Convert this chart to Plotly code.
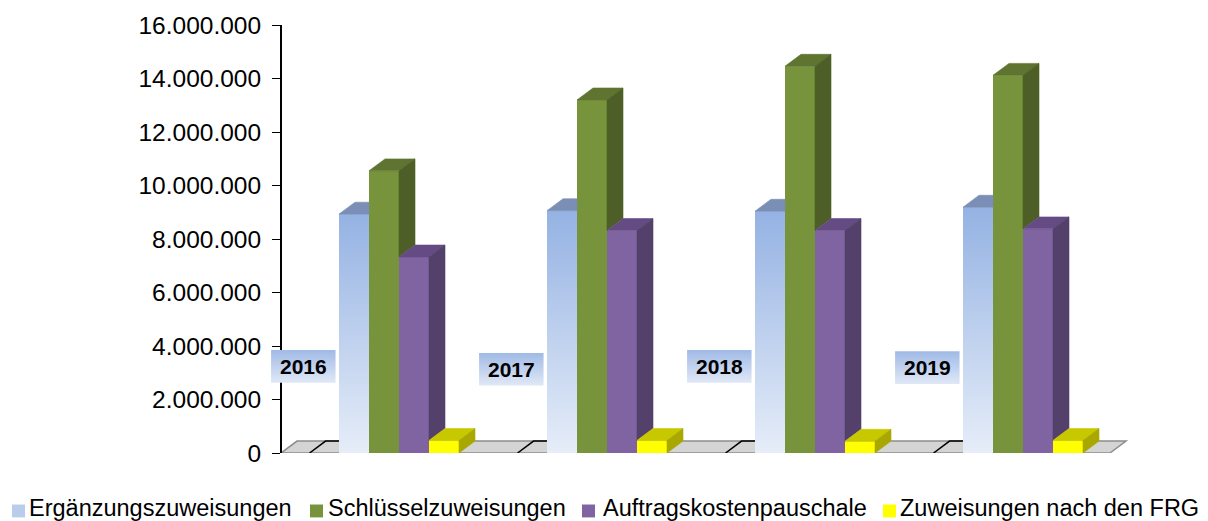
import plotly.graph_objects as go

# ---------------- data ----------------
years = ["2016", "2017", "2018", "2019"]
series_names = ["Ergänzungszuweisungen", "Schlüsselzuweisungen",
                "Auftragskostenpauschale", "Zuweisungen nach den FRG"]
ergaenzung = [8930000, 9060000, 9040000, 9190000]
schluessel = [10550000, 13200000, 14460000, 14120000]
auftrag = [7330000, 8320000, 8320000, 8380000]
frg = [470000, 470000, 440000, 470000]
y_tick_values = [0, 2000000, 4000000, 6000000, 8000000,
                 10000000, 12000000, 14000000, 16000000]

series_values = [ergaenzung, schluessel, auftrag, frg]

# ---------------- styling / geometry ----------------
front_colors = ["#B9CCEB", "#77933C", "#8064A2", "#FFFF00"]
top_colors = ["#7A8EB6", "#5E7430", "#644B84", "#C8C800"]
side_colors = ["#6A7DA3", "#4D5F27", "#53406B", "#A8A800"]
blue_grad = [[0, "#E6EDF8"], [1, "#94B2E3"]]
label_grad = [[0, "#E0E8F6"], [1, "#A0BAE6"]]
FONT = "Liberation Sans, Arial, sans-serif"

FIG_W, FIG_H = 1208, 521
PLOT_L, PLOT_R = 265, 1130          # px of plot area
PLOT_T, PLOT_B = 21, 453
PX_PER_CAT = 208.0
CENTER0_PX = 399.0                   # px of first category's group center
AXIS_PX = 281.0
FLOOR_RIGHT_PX = 1110.0

def px_to_x(px):
    return (px - CENTER0_PX) / PX_PER_CAT

X_MIN, X_MAX = px_to_x(PLOT_L), px_to_x(PLOT_R)
Y_MAX = 16000000
Y_PER_PX = Y_MAX / (PLOT_B - PLOT_T)
BAR_W = 30 / PX_PER_CAT
DX = 16 / PX_PER_CAT
DY = 12 * Y_PER_PX
AXIS_X = px_to_x(AXIS_PX)
FLOOR_R = px_to_x(FLOOR_RIGHT_PX)

x_cat = list(range(len(years)))

fig = go.Figure()


def poly(xs, ys, color):
    return go.Scatter(x=xs + [xs[0]], y=ys + [ys[0]], fill="toself",
                      fillcolor=color, mode="lines",
                      line=dict(width=0.6, color=color),
                      hoverinfo="skip", showlegend=False)


# front faces as real bars
for k, (name, vals) in enumerate(zip(series_names, series_values)):
    fig.add_trace(go.Bar(
        x=x_cat, y=vals, name=name, width=BAR_W,
        offset=(k - 2) * BAR_W, marker=dict(color=front_colors[k], line=dict(width=0)),
        showlegend=False,
    ))

# gradient overlay for the first series + 3D top / side faces
for i in x_cat:
    for k, vals in enumerate(series_values):
        v = vals[i]
        x0 = i + (k - 2) * BAR_W
        x1 = x0 + BAR_W
        vn = series_values[k + 1][i] if k < len(series_values) - 1 else None
        if k == 0:
            fig.add_trace(go.Scatter(
                x=[x0, x1, x1, x0, x0], y=[0, 0, v, v, 0], fill="toself",
                fillgradient=dict(type="vertical", colorscale=blue_grad),
                mode="lines", line=dict(width=0), hoverinfo="skip", showlegend=False))
        # top face
        if vn is None or vn <= v:
            fig.add_trace(poly([x0, x1, x1 + DX, x0 + DX], [v, v, v + DY, v + DY], top_colors[k]))
        else:
            vc = min(vn, v + DY)
            fig.add_trace(poly([x0, x1, x1, x1 + (v + DY - vc) * DX / DY, x0 + DX],
                               [v, v, vc, v + DY, v + DY], top_colors[k]))
        # side face
        if vn is None:
            fig.add_trace(poly([x1, x1 + DX, x1 + DX, x1], [0, DY, v + DY, v], side_colors[k]))
        elif vn < v:
            fig.add_trace(poly([x1, x1 + DX, x1 + DX, x1], [vn, vn + DY, v + DY, v], side_colors[k]))

# category label boxes (gradient) + text
label_y = [3240000, 3130000, 3240000, 3190000]
LBL_L, LBL_R = -0.615, -0.305
LBL_H = 33 * Y_PER_PX
for i, yr in enumerate(years):
    xl, xr = i + LBL_L, i + LBL_R
    yb, yt = label_y[i] - LBL_H / 2, label_y[i] + LBL_H / 2
    fig.add_trace(go.Scatter(
        x=[xl, xr, xr, xl, xl], y=[yb, yb, yt, yt, yb], fill="toself",
        fillgradient=dict(type="vertical", colorscale=label_grad),
        mode="lines", line=dict(width=0), hoverinfo="skip", showlegend=False))
    fig.add_annotation(x=(xl + xr) / 2, y=label_y[i], text="<b>" + yr + "</b>",
                       showarrow=False, xanchor="center", yanchor="middle",
                       font=dict(family=FONT, size=21, color="black"))

# floor
floor_path = (f"M {AXIS_X},0 L {FLOOR_R},0 L {FLOOR_R + DX},{DY} "
              f"L {AXIS_X + DX},{DY} Z")
fig.add_shape(type="path", path=floor_path, xref="x", yref="y", layer="below",
              fillcolor="#D4D4D4", line=dict(color="#8C8C8C", width=1.5))
# category tick marks on the floor
for i in x_cat:
    b = i - 0.43
    bl = i - 2 * BAR_W
    fig.add_shape(type="path", path=f"M {b},0 L {b + DX},{DY} L {bl},{DY}",
                  xref="x", yref="y", layer="below",
                  line=dict(color="black", width=1.5))

# legend (custom, to match spacing)
PAPER_W = PLOT_R - PLOT_L
PAPER_H = PLOT_B - PLOT_T
def ppx(px):
    return (px - PLOT_L) / PAPER_W
def ppy(py):
    return (PLOT_B - py) / PAPER_H

legend_marker_px = [12, 310, 582, 883]
legend_text_px = [27, 326, 601, 898]
legend_colors = ["#B9CCEB", "#77933C", "#8064A2", "#FFFF00"]
for name, mx, tx, col in zip(series_names, legend_marker_px, legend_text_px, legend_colors):
    fig.add_shape(type="rect", xref="paper", yref="paper",
                  x0=ppx(mx), x1=ppx(mx + 13), y0=ppy(518), y1=ppy(505),
                  fillcolor=col, line=dict(width=0))
    fig.add_annotation(xref="paper", yref="paper", x=ppx(tx), y=ppy(509),
                       text=name, showarrow=False, xanchor="left", yanchor="middle",
                       font=dict(family=FONT, size=23.5, color="black"))

fig.update_layout(
    width=FIG_W, height=FIG_H,
    margin=dict(l=PLOT_L, r=FIG_W - PLOT_R, t=PLOT_T, b=FIG_H - PLOT_B, pad=0),
    paper_bgcolor="white", plot_bgcolor="white",
    barmode="overlay", separators=",.",
    showlegend=False,
    font=dict(family=FONT, size=23, color="black"),
    xaxis=dict(range=[X_MIN, X_MAX], visible=False, fixedrange=True),
    yaxis=dict(range=[0, Y_MAX], tickvals=y_tick_values, tickformat=",d",
               showgrid=False, zeroline=False, showline=True, linecolor="black",
               linewidth=2, ticks="outside", ticklen=8, tickcolor="black", tickwidth=1,
               anchor="free", position=(AXIS_PX - PLOT_L) / (PLOT_R - PLOT_L),
               layer="below traces", ticklabelstandoff=6,
               tickfont=dict(size=24.5, color="black")),
)

fig.write_html("out.html", config={"displayModeBar": False},
               post_script="document.body.style.margin='0';document.body.style.overflow='hidden';")
